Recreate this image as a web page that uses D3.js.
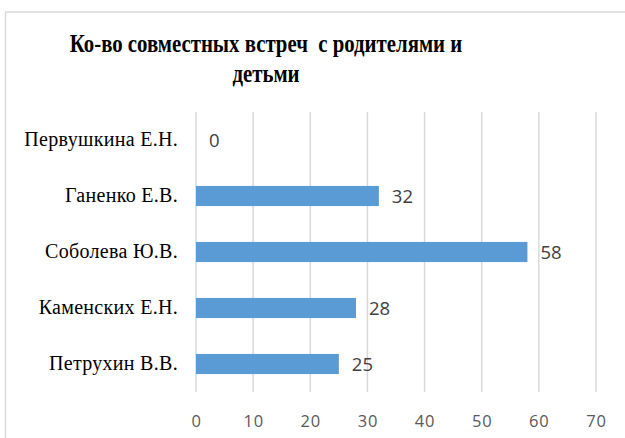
<!DOCTYPE html>
<html lang="ru">
<head>
  <meta charset="UTF-8" />
  <title>Ко-во совместных встреч</title>
  <script src="https://d3js.org/d3.v7.min.js"></script>
  <style>
    body { margin: 0; padding: 0; background: #fff; }
  </style>
</head>
<body>
  <div id="chart"></div>
  <script>
    const teachers = ["Первушкина Е.Н.", "Ганенко Е.В.", "Соболева Ю.В.", "Каменских Е.Н.", "Петрухин В.В."];
    const meetings = [0, 32, 58, 28, 25];
    const xTicks = [0, 10, 20, 30, 40, 50, 60, 70];
    const titleLines = ["Ко-во совместных встреч  с родителями и", "детьми"];

    const W = 625, H = 438;
    const margin = { top: 112, left: 196, right: 29, bottom: 46 };
    const width = W - margin.left - margin.right;
    const height = H - margin.top - margin.bottom;

    const svg = d3.select("#chart").append("svg")
      .attr("width", W).attr("height", H);

    // chart frame (cut off on the right and bottom in the original)
    svg.append("rect")
      .attr("x", 5.5).attr("y", 12)
      .attr("width", 700).attr("height", 500)
      .attr("fill", "none").attr("stroke", "#d9d9d9").attr("stroke-width", 1.5);

    // title - condensed bold serif
    const titleX = 266;
    svg.append("g")
      .attr("transform", `translate(${titleX},0) scale(0.8,1)`)
      .append("text")
      .attr("x", 0).attr("y", 52)
      .attr("text-anchor", "middle")
      .style("font-family", "'Liberation Serif', 'Times New Roman', serif")
      .style("font-weight", "bold")
      .style("font-size", "26px")
      .style("white-space", "pre")
      .attr("fill", "#000")
      .selectAll("tspan").data(titleLines).enter().append("tspan")
      .attr("x", 0).attr("dy", (d, i) => i === 0 ? 0 : 30)
      .text(d => d);

    const g = svg.append("g").attr("transform", `translate(${margin.left},${margin.top})`);

    const x = d3.scaleLinear().domain([0, 70]).range([0, width]);
    const y = d3.scaleBand().domain(teachers).range([0, height]).paddingInner(0.64).paddingOuter(0.32);

    // gridlines
    g.append("g").selectAll("line").data(xTicks).enter().append("line")
      .attr("x1", d => x(d)).attr("x2", d => x(d))
      .attr("y1", 0).attr("y2", height)
      .attr("stroke", "#d9d9d9").attr("stroke-width", 1.5);

    // x axis labels
    const xAxis = g.append("g").attr("transform", `translate(0,${height})`)
      .call(d3.axisBottom(x).tickValues(xTicks).tickSize(0).tickPadding(23));
    xAxis.select(".domain").remove();
    xAxis.selectAll("text")
      .style("font-family", "'Open Sans', sans-serif")
      .style("font-size", "16.5px")
      .style("letter-spacing", "0.8px")
      .attr("fill", "#595959");

    // y axis labels
    const yAxis = g.append("g")
      .call(d3.axisLeft(y).tickSize(0).tickPadding(18));
    yAxis.select(".domain").remove();
    yAxis.selectAll("text")
      .style("font-family", "'Liberation Serif', 'Times New Roman', serif")
      .style("font-size", "20px")
      .style("letter-spacing", "0.3px")
      .attr("fill", "#000");

    // bars
    g.selectAll(".bar").data(teachers).enter().append("rect")
      .attr("class", "bar")
      .attr("x", 0)
      .attr("y", d => y(d))
      .attr("width", (d, i) => x(meetings[i]))
      .attr("height", y.bandwidth())
      .attr("fill", "#5b9bd5");

    // value labels
    g.selectAll(".val").data(teachers).enter().append("text")
      .attr("class", "val")
      .attr("x", (d, i) => x(meetings[i]) + 13)
      .attr("y", d => y(d) + y.bandwidth() / 2)
      .attr("dy", "0.36em")
      .style("font-family", "'Open Sans', sans-serif")
      .style("font-size", "18.5px")
      .attr("fill", "#404040")
      .text((d, i) => meetings[i]);
  </script>
</body>
</html>
